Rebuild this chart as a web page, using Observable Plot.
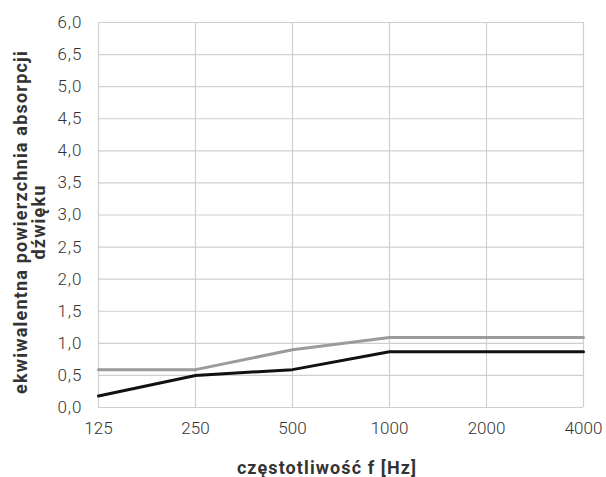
<!DOCTYPE html>
<html>
<head>
<meta charset="utf-8">
<script src="https://cdn.jsdelivr.net/npm/d3@7"></script>
<script src="https://cdn.jsdelivr.net/npm/@observablehq/plot@0.6"></script>
<style>
  html, body { margin: 0; padding: 0; background: #fff; }
  #chart svg { display: block; }
</style>
</head>
<body>
<div id="chart"></div>
<script>
const frequencies = ["125", "250", "500", "1000", "2000", "4000"];
const seriesGray = [0.59, 0.59, 0.90, 1.09, 1.09, 1.09];
const seriesBlack = [0.18, 0.50, 0.59, 0.87, 0.87, 0.87];
const yTickValues = [0, 0.5, 1, 1.5, 2, 2.5, 3, 3.5, 4, 4.5, 5, 5.5, 6];
const yTickLabels = ["0,0", "0,5", "1,0", "1,5", "2,0", "2,5", "3,0", "3,5", "4,0", "4,5", "5,0", "6,5", "6,0"];
const xTitle = "częstotliwość f [Hz]";
const yTitle1 = "ekwiwalentna powierzchnia absorpcji";
const yTitle2 = "dźwięku";

const gray = frequencies.map((f, i) => ({f, v: seriesGray[i]}));
const black = frequencies.map((f, i) => ({f, v: seriesBlack[i]}));
const labelMap = new Map(yTickValues.map((v, i) => [v, yTickLabels[i]]));

const W = 606, H = 477;
const plot = Plot.plot({
  width: W,
  height: H,
  marginLeft: 98,
  marginRight: 23,
  marginTop: 22,
  marginBottom: 70,
  style: {fontFamily: "Roboto", fontWeight: 300, fontSize: "17px", color: "#333", background: "#fff"},
  x: {type: "point", domain: frequencies, padding: 0},
  y: {domain: [0, 6]},
  marks: [
    Plot.gridY(yTickValues, {stroke: "#cfcfcf", strokeOpacity: 1, strokeWidth: 1.2}),
    Plot.gridX(frequencies, {stroke: "#cfcfcf", strokeOpacity: 1, strokeWidth: 1.2}),
    Plot.axisX({tickSize: 0, tickPadding: 14, label: null, fill: "#333"}),
    Plot.axisY({ticks: yTickValues, tickFormat: d => labelMap.get(d), tickSize: 0, tickPadding: 16, label: null, fill: "#333"}),
    Plot.line(gray, {x: "f", y: "v", stroke: "#9b9b9b", strokeWidth: 3}),
    Plot.line(black, {x: "f", y: "v", stroke: "#111", strokeWidth: 3})
  ]
});

const svg = d3.select(plot);
// slightly wider spacing for the y tick labels
svg.selectAll("g[aria-label='y-axis tick label'] text").attr("letter-spacing", 1);

function title(text, transform, x, y) {
  const t = svg.append("text")
    .attr("text-anchor", "middle")
    .attr("font-family", "Roboto").attr("font-weight", 700)
    .attr("fill", "#333")
    .style("font-size", "18px")
    .text(text);
  if (transform) t.attr("transform", transform);
  else t.attr("x", x).attr("y", y);
  return t;
}
title(xTitle, null, 327, 474).attr("letter-spacing", 1.1);
title(yTitle1, "translate(26.5,222) rotate(-90)").attr("letter-spacing", 1.2);
title(yTitle2, "translate(45,222) rotate(-90)").attr("letter-spacing", 1.2);

document.getElementById("chart").appendChild(plot);
</script>
</body>
</html>
